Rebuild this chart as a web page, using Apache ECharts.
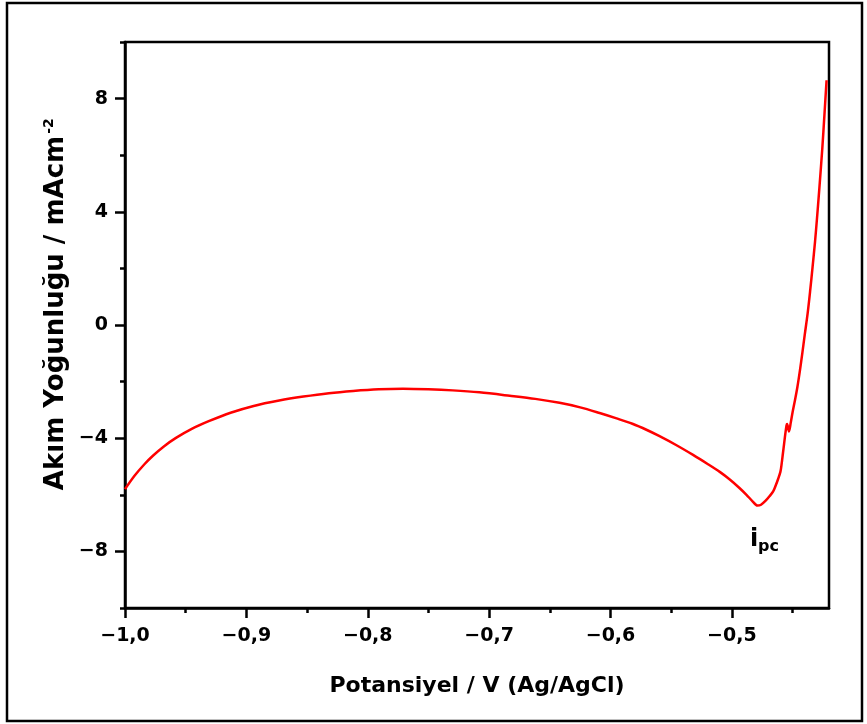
<!DOCTYPE html>
<html>
<head>
<meta charset="utf-8">
<script src="https://cdn.jsdelivr.net/npm/echarts@6/dist/echarts.min.js"></script>
<style>
html, body { margin: 0; padding: 0; background: #fff; }
#chart { width: 867px; height: 724px; }
</style>
</head>
<body>
<div id="chart"></div>
<script>
// potansiyel (V) ve akim yogunlugu (mA/cm2)
const potential = [-1.000, -0.992, -0.984, -0.977, -0.968, -0.958, -0.945, -0.931, -0.913, -0.894,
	-0.873, -0.853, -0.832, -0.812, -0.791, -0.771, -0.750, -0.730, -0.708, -0.683,
	-0.662, -0.642, -0.625, -0.609, -0.595, -0.582, -0.570, -0.560, -0.546, -0.532,
	-0.520, -0.510, -0.502, -0.494, -0.488, -0.483, -0.479, -0.476, -0.472, -0.469,
	-0.466, -0.464, -0.462, -0.460, -0.459, -0.458, -0.457, -0.456, -0.455, -0.4545,
	-0.453, -0.4515, -0.450, -0.448, -0.446, -0.444, -0.442, -0.440, -0.4376, -0.4355,
	-0.4335, -0.4315, -0.430, -0.428, -0.4255, -0.4238, -0.422]
const current = [-5.80, -5.32, -4.92, -4.62, -4.29, -3.99, -3.67, -3.40, -3.10, -2.86,
	-2.67, -2.53, -2.41, -2.33, -2.27, -2.25, -2.27, -2.31, -2.38, -2.50,
	-2.61, -2.75, -2.91, -3.11, -3.30, -3.49, -3.71, -3.92, -4.24, -4.59,
	-4.91, -5.19, -5.45, -5.75, -6.00, -6.23, -6.38, -6.35, -6.20, -6.05,
	-5.88, -5.68, -5.45, -5.18, -4.90, -4.55, -4.20, -3.85, -3.55, -3.50,
	-3.76, -3.45, -3.08, -2.65, -2.18, -1.62, -1.00, -0.35, 0.41, 1.22,
	2.06, 2.95, 3.71, 4.80, 6.25, 7.40, 8.65]

const xMajorTicks = [-1.0, -0.9, -0.8, -0.7, -0.6, -0.5]
const xMinorTicks = [-0.95, -0.85, -0.75, -0.65, -0.55, -0.45]
const yMajorTicks = [-8, -4, 0, 4, 8]
const yMinorTicks = [-10, -6, -2, 2, 6, 10]

const font = 'DejaVu Sans'
const axisColor = '#000'

const fmtX = (v) => v.toFixed(1).replace('-', '\u2212').replace('.', ',')
const fmtY = (v) => String(v).replace('-', '\u2212')

const seriesData = potential.map((p, i) => [p, current[i]])

const labelStyle = {
	color: '#000',
	fontFamily: font,
	fontWeight: 'bold',
	fontSize: 19
}

var option = {
	animation: false,
	backgroundColor: '#fff',
	grid: {
		left: 125,
		top: 42,
		width: 704,
		height: 566,
		show: true,
		borderColor: axisColor,
		borderWidth: 2.5,
		backgroundColor: 'transparent'
	},
	xAxis: [{
		type: 'value',
		min: -1.0,
		max: -0.42,
		position: 'bottom',
		axisLine: { show: true, onZero: false, lineStyle: { color: axisColor, width: 2.5 } },
		axisTick: { show: true, customValues: xMajorTicks, length: 10, lineStyle: { color: axisColor, width: 2.5 } },
		axisLabel: Object.assign({ customValues: xMajorTicks, formatter: fmtX, margin: 19 }, labelStyle),
		splitLine: { show: false },
		name: 'Potansiyel / V (Ag/AgCl)',
		nameLocation: 'middle',
		nameGap: 67,
		nameTextStyle: { color: '#000', fontFamily: font, fontWeight: 'bold', fontSize: 22 }
	}, {
		type: 'value',
		min: -1.0,
		max: -0.42,
		position: 'bottom',
		axisLine: { show: false, onZero: false },
		axisTick: { show: true, customValues: xMinorTicks, length: 5, lineStyle: { color: axisColor, width: 2.5 } },
		axisLabel: { show: false },
		splitLine: { show: false }
	}],
	yAxis: [{
		type: 'value',
		min: -10,
		max: 10,
		position: 'left',
		axisLine: { show: true, onZero: false, lineStyle: { color: axisColor, width: 2.5 } },
		axisTick: { show: true, customValues: yMajorTicks, length: 10, lineStyle: { color: axisColor, width: 2.5 } },
		axisLabel: Object.assign({ customValues: yMajorTicks, formatter: fmtY, margin: 17 }, labelStyle),
		splitLine: { show: false }
	}, {
		type: 'value',
		min: -10,
		max: 10,
		position: 'left',
		axisLine: { show: false, onZero: false },
		axisTick: { show: true, customValues: yMinorTicks, length: 5, lineStyle: { color: axisColor, width: 2.5 } },
		axisLabel: { show: false },
		splitLine: { show: false }
	}],
	series: [{
		type: 'line',
		xAxisIndex: 0,
		yAxisIndex: 0,
		data: seriesData,
		showSymbol: false,
		smooth: 0.3,
		lineStyle: { color: '#ff0000', width: 2.5 },
		clip: true
	}],
	graphic: [{
		type: 'rect',
		shape: { x: 7, y: 3, width: 855, height: 718 },
		style: { fill: 'none', stroke: '#000', lineWidth: 2.5 },
		silent: true
	}, {
		type: 'text',
		x: 56,
		y: 313,
		rotation: Math.PI / 2,
		style: {
			text: 'Akım Yoğunluğu / mAcm',
			fill: '#000',
			font: 'bold 26px "DejaVu Sans"',
			align: 'center',
			verticalAlign: 'middle'
		}
	}, {
		type: 'text',
		x: 49,
		y: 126,
		rotation: Math.PI / 2,
		style: {
			text: '-2',
			fill: '#000',
			font: 'bold 14px "DejaVu Sans"',
			align: 'center',
			verticalAlign: 'middle'
		}
	}, {
		type: 'text',
		x: 750,
		y: 528,
		style: {
			text: 'i',
			fill: '#000',
			font: 'bold 24px "DejaVu Sans"',
			align: 'left',
			verticalAlign: 'top'
		}
	}, {
		type: 'text',
		x: 758,
		y: 539,
		style: {
			text: 'pc',
			fill: '#000',
			font: 'bold 16px "DejaVu Sans"',
			align: 'left',
			verticalAlign: 'top'
		}
	}]
}

var myChart = echarts.init(document.getElementById('chart'), null, { renderer: 'canvas' })
myChart.setOption(option)
</script>
</body>
</html>
